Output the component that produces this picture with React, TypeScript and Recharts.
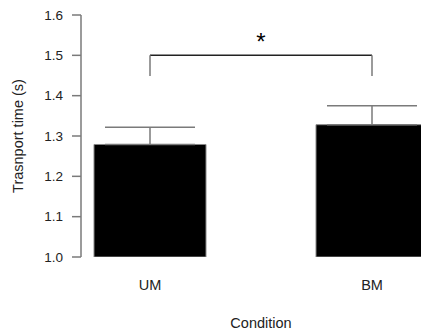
import {
  BarChart,
  Bar,
  XAxis,
  YAxis,
  ErrorBar,
  ReferenceLine,
  Label,
} from 'recharts';

// Mean transport time per condition, with upper error
const conditions = ['UM', 'BM'];
const meanTimes = [1.279, 1.328];
const errTimes = [0.043, 0.047];
const yTicks = [1.0, 1.1, 1.2, 1.3, 1.4, 1.5, 1.6];

// significance bracket
const bracketTop = 1.5;
const bracketLegEnd = 1.449;

const FONT = '"Liberation Sans", Arial, sans-serif';
const TEXT = '#222';
const GREY = '#7a7a7a';

const chartData = conditions.map((c, i) => ({
  name: c,
  time: meanTimes[i],
  err: [0, errTimes[i]],
}));

export default function App() {
  return (
    <div style={{ position: 'absolute', left: 0, top: 0, width: 421, height: 333, overflow: 'hidden', background: '#fff' }}>
      <BarChart
        width={421}
        height={333}
        data={chartData}
        margin={{ top: 15, right: 0, left: 0, bottom: 36 }}
      >
        <XAxis
          dataKey="name"
          height={40}
          axisLine={false}
          tickLine={false}
          tickSize={0}
          tickMargin={23}
          padding={{ left: -42, right: -62 }}
          tick={{ fill: TEXT, fontSize: 14.5, fontFamily: FONT }}
        >
          <Label
            content={({ viewBox }: any) => (
              <text
                x={viewBox.x + viewBox.width / 2 + 10}
                y={viewBox.y + viewBox.height + 31}
                textAnchor="middle"
                fill={TEXT}
                fontSize={14.5}
                fontFamily={FONT}
              >
                Condition
              </text>
            )}
          />
        </XAxis>
        <YAxis
          width={81}
          domain={[1.0, 1.6]}
          ticks={yTicks}
          allowDataOverflow
          tickFormatter={(v: number) => v.toFixed(1)}
          axisLine={{ stroke: GREY, strokeWidth: 1.5 }}
          tickLine={{ stroke: GREY, strokeWidth: 1.5 }}
          tickSize={9}
          tickMargin={9}
          tick={{ fill: TEXT, fontSize: 13.5, fontFamily: FONT }}
        >
          <Label
            content={({ viewBox }: any) => {
              const cx = 23;
              const cy = viewBox.y + viewBox.height / 2;
              return (
                <text
                  x={cx}
                  y={cy}
                  transform={`rotate(-90, ${cx}, ${cy})`}
                  textAnchor="middle"
                  fill={TEXT}
                  fontSize={14.5}
                  fontFamily={FONT}
                >
                  Trasnport time (s)
                </text>
              );
            }}
          />
        </YAxis>
        <Bar
          dataKey="time"
          fill="#000"
          stroke="#888"
          strokeWidth={1}
          barSize={112}
          isAnimationActive={false}
        >
          <ErrorBar dataKey="err" width={45} stroke={GREY} strokeWidth={1.5} />
        </Bar>
        <ReferenceLine
          segment={[
            { x: conditions[0], y: bracketTop },
            { x: conditions[1], y: bracketTop },
          ]}
          stroke={TEXT}
          strokeWidth={1.5}
        >
          <Label
            content={({ viewBox }: any) => (
              <text
                x={viewBox.x + viewBox.width / 2}
                y={viewBox.y - 5}
                textAnchor="middle"
                fill="#000"
                fontSize={24}
                fontFamily={FONT}
              >
                *
              </text>
            )}
          />
        </ReferenceLine>
        <ReferenceLine
          segment={[
            { x: conditions[0], y: bracketTop },
            { x: conditions[0], y: bracketLegEnd },
          ]}
          stroke={GREY}
          strokeWidth={1.5}
        />
        <ReferenceLine
          segment={[
            { x: conditions[1], y: bracketTop },
            { x: conditions[1], y: bracketLegEnd },
          ]}
          stroke={GREY}
          strokeWidth={1.5}
        />
      </BarChart>
    </div>
  );
}
